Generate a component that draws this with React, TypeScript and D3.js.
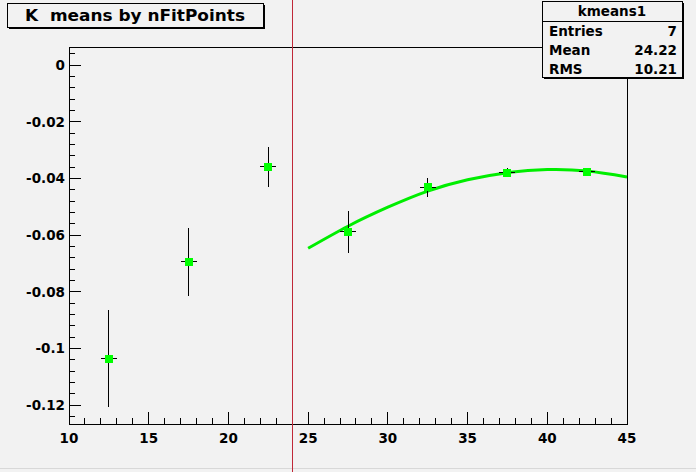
import * as d3 from 'd3';
import React from 'react';

// K means by nFitPoints -- ROOT style profile with pol2 fit
const binCenters = [12.5, 17.5, 22.5, 27.5, 32.5, 37.5, 42.5];
const kMeans = [-0.1036, -0.0694, -0.0359, -0.0588, -0.0432, -0.0380, -0.0377];
const kErrors = [0.0172, 0.0120, 0.0071, 0.0074, 0.0034, 0.0015, 0.0008];
const binHalfWidth = 0.5;

// fit curve
const fitX = [25, 27.5, 30, 32.5, 35, 37.5, 40, 42.5, 45];
const fitY = [-0.0647, -0.0569, -0.0502, -0.0445, -0.0405, -0.0380, -0.0369, -0.0374, -0.0395];

const xTicks = [10, 15, 20, 25, 30, 35, 40, 45];
const yTicks = [0, -0.02, -0.04, -0.06, -0.08, -0.1, -0.12];
const yTickLabels = ['0', '-0.02', '-0.04', '-0.06', '-0.08', '-0.1', '-0.12'];
const cutValue = 24;

const statsNames = ['Entries', 'Mean', 'RMS'];
const statsValues = ['7', '24.22', '10.21'];

const W = 696, H = 472;
const frame = { left: 69, right: 627, top: 47, bottom: 424 };
const font = '"DejaVu Sans", sans-serif';
const bg = '#f2f2f2';

export default function App() {
  const x = d3.scaleLinear().domain([10, 45]).range([frame.left, frame.right]);
  const y = d3.scaleLinear().domain([-0.12, 0]).range([405, 65]);

  const xMinor = d3.range(10, 45.01, 1);
  const yMinor = d3.range(-0.124, 0.0061, 0.004).filter(v => y(v) <= frame.bottom && y(v) >= frame.top);

  const fitLine = d3.line<number>()
    .x((d, i) => x(fitX[i]))
    .y(d => y(d))
    .curve(d3.curveNatural);

  return (
    <div style={{ position: 'absolute', left: 0, top: 0 }}>
      <svg width={W} height={H} style={{ display: 'block', fontFamily: font }}>
        <rect x={0} y={0} width={W} height={H} fill={bg} />
        <line x1={0} x2={W} y1={H - 3.5} y2={H - 3.5} stroke="#d8d8d8" />

        {/* frame */}
        <rect x={frame.left} y={frame.top} width={frame.right - frame.left} height={frame.bottom - frame.top}
          fill="none" stroke="#000" strokeWidth={1} shapeRendering="crispEdges" />

        {/* axis ticks */}
        <g shapeRendering="crispEdges" stroke="#000">
          {xMinor.map(v => {
            const major = Math.abs(v % 5) < 1e-6;
            return <line key={'xm' + v} x1={x(v)} x2={x(v)} y1={frame.bottom} y2={frame.bottom - (major ? 12 : 6)} />;
          })}
          {yMinor.map((v, i) => {
            const major = Math.abs(Math.round(v / 0.02) * 0.02 - v) < 1e-6;
            return <line key={'ym' + i} x1={frame.left} x2={frame.left + (major ? 12 : 6)} y1={y(v)} y2={y(v)} />;
          })}
        </g>

        {/* tick labels */}
        <g fontWeight="bold" fontSize={13.5} fill="#000">
          {xTicks.map(v => (
            <text key={'xt' + v} x={x(v)} y={443} textAnchor="middle">{v}</text>
          ))}
          {yTicks.map((v, i) => (
            <text key={'yt' + v} x={65} y={y(v) + 5} textAnchor="end">{yTickLabels[i]}</text>
          ))}
        </g>

        {/* fit */}
        <path d={fitLine(fitY) || ''} fill="none" stroke="#00ee00" strokeWidth={3} />

        {/* points with error bars */}
        <g shapeRendering="crispEdges">
          {binCenters.map((c, i) => (
            <g key={'p' + i}>
              <line x1={x(c)} x2={x(c)} y1={y(kMeans[i] + kErrors[i])} y2={y(kMeans[i] - kErrors[i])} stroke="#000" />
              <line x1={x(c - binHalfWidth)} x2={x(c + binHalfWidth)} y1={y(kMeans[i])} y2={y(kMeans[i])} stroke="#000" />
              <rect x={x(c) - 4} y={y(kMeans[i]) - 4} width={8} height={8} fill="#00ff00" />
            </g>
          ))}
        </g>

        {/* cut line */}
        <line x1={x(cutValue)} x2={x(cutValue)} y1={0} y2={H} stroke="#c02838" strokeWidth={1} shapeRendering="crispEdges" />

        {/* title box */}
        <rect x={9} y={5} width={256} height={24} fill="#000" />
        <rect x={7} y={3} width={256} height={24} fill={bg} stroke="#000" strokeWidth={1} shapeRendering="crispEdges" />
        <text x={135} y={21} textAnchor="middle" fontWeight="bold" fontSize={16.5} style={{ whiteSpace: 'pre' }}
          textLength={220} lengthAdjust="spacingAndGlyphs">{'K  means by nFitPoints'}</text>

        {/* stats box */}
        <rect x={544} y={3} width={140} height={76} fill="#000" />
        <rect x={542} y={1} width={140} height={76} fill={bg} stroke="#000" strokeWidth={1} shapeRendering="crispEdges" />
        <line x1={542} x2={682} y1={21} y2={21} stroke="#000" shapeRendering="crispEdges" />
        <g fontWeight="bold" fontSize={13.5}>
          <text x={612} y={16} textAnchor="middle">kmeans1</text>
          {statsNames.map((n, i) => (
            <g key={n}>
              <text x={549} y={36 + i * 19}>{n}</text>
              <text x={677} y={36 + i * 19} textAnchor="end">{statsValues[i]}</text>
            </g>
          ))}
        </g>
      </svg>
    </div>
  );
}
